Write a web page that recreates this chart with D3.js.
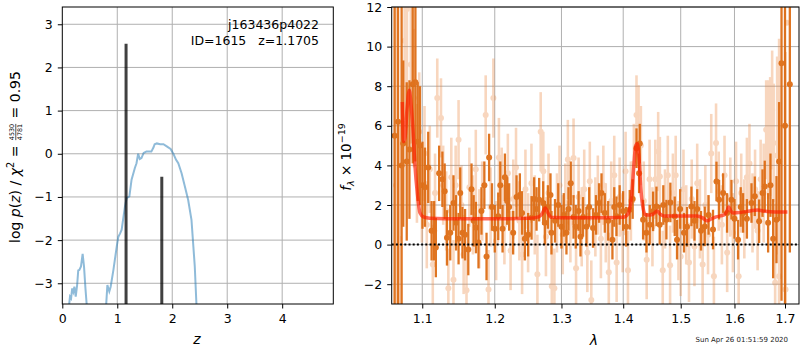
<!DOCTYPE html>
<html><head><meta charset="utf-8">
<script src="https://cdn.jsdelivr.net/npm/d3@7"></script>
<style>body{margin:0;background:#fff} svg{font-family:"DejaVu Sans",sans-serif} text{white-space:pre}</style>
</head><body><svg id="c" width="800" height="350"></svg>
<script>
// ---------- DATA ----------
const zTicks = [0,1,2,3,4];
const pzTicks = [-3,-2,-1,0,1,2,3];
const lamTicks = [1.1,1.2,1.3,1.4,1.5,1.6,1.7];
const fluxTicks = [-2,0,2,4,6,8,10,12];

// log p(z) curve (null breaks segments)
const pzZ = [0.12,0.127,0.14,0.16,0.18,0.20,0.22,0.244,0.27,0.29,0.31,0.34,0.37,0.395,0.42,0.45,null,
  0.79,0.80,0.82,0.855,0.88,0.93,0.99,1.02,1.05,1.08,1.14,1.17,1.22,1.26,1.32,1.35,1.38,1.41,1.44,1.48,1.53,1.62,1.66,1.68,1.72,1.78,1.84,1.90,1.97,2.02,2.07,2.11,2.17,2.23,2.29,2.35,2.41,2.44,2.46];
const pzVal = [-3.6,-3.46,-3.31,-3.35,-3.12,-3.2,-3.08,-3.31,-3.04,-2.7,-2.69,-2.61,-2.32,-2.61,-3.1,-3.6,null,
  -3.6,-3.46,-3.04,-3.19,-3.08,-2.69,-2.15,-1.92,-1.85,-1.76,-1.22,-1.03,-0.99,-0.60,-0.33,-0.22,0.0,-0.12,-0.1,0.02,0.05,0.05,0.15,0.22,0.24,0.22,0.22,0.17,0.11,0.0,-0.14,-0.22,-0.45,-0.76,-1.07,-1.53,-2.61,-3.48,-3.7];
const peakZ = [1.16, 1.81];
const peakVal = [2.55, -0.53];

// spectrum, primary (dark) points
const darkLam = [1.0641,1.0685,1.0731,1.0752,1.0797,1.0832,1.0875,1.0910,1.0940,1.0970,1.1003,1.1036,1.1079,1.1124,1.1158,1.1181,1.1225,1.1269,1.1300,1.1331,1.1376,1.1420,1.1456,1.1490,1.1513,1.1544,1.1580,1.1625,1.1670,1.1700,1.1732,1.1768,1.1810,1.1851,1.1882,1.1919,1.1960,1.2000,1.2050,1.2080,1.2113,1.2147,1.2180,1.2209,1.2268,1.2318,1.2367,1.2400,1.2441,1.2491,1.2542,1.2580,1.2617,1.2657,1.2718,1.2743,1.2790,1.2830,1.2845,1.2900,1.2950,1.3000,1.3036,1.3078,1.3110,1.3146,1.3190,1.3225,1.3270,1.3300,1.3341,1.3396,1.3440,1.3502,1.3550,1.3600,1.3640,1.3694,1.3750,1.3820,1.3850,1.3887,1.3940,1.3998,1.4050,1.4110,1.4160,1.4225,1.4269,1.4281,1.4338,1.4396,1.4453,1.4511,1.4570,1.4627,1.4690,1.4745,1.4815,1.4893,1.4934,1.4990,1.5059,1.5114,1.5194,1.5250,1.5300,1.5370,1.5439,1.5510,1.5593,1.5658,1.5707,1.5783,1.5858,1.5942,1.6000,1.6069,1.6120,1.6166,1.6240,1.6330,1.6395,1.6480,1.6547,1.6592,1.6659,1.6706,1.6760,1.6827,1.6880,1.6929,1.7000,1.7099];
const darkFlux = [5.5,6.2,4.0,5.1,4.2,4.8,8.1,8.2,5.2,5.0,3.0,2.9,3.9,0.7,0.7,-0.15,3.6,3.3,2.7,0.34,0.6,2.1,1.1,0.3,2.6,0.6,0.5,-0.25,2.8,1.2,0.86,0.1,1.7,3.0,-0.6,4.4,1.9,0.8,1.43,3.0,0.8,3.4,2.2,1.9,0.6,2.4,2.5,1.6,0.3,0.5,1.35,2.3,1.8,2.27,2.1,1.1,1.9,2.5,0.6,1.2,2.0,0.9,1.5,0.6,1.8,3.1,1.4,0.9,1.7,0.4,1.4,0.9,1.9,0.84,1.5,2.1,2.6,1.6,1.2,0.25,1.9,1.43,2.0,1.7,0.9,1.76,2.3,4.87,3.6,5.1,1.26,0.6,1.0,1.68,1.93,1.0,2.0,1.26,2.13,1.43,0.25,1.8,0.6,0.9,1.93,1.2,1.8,0.7,0.92,1.5,0.76,3.19,2.27,2.6,1.6,2.27,1.3,0.25,1.9,1.6,1.3,2.1,2.44,1.18,2.6,2.94,1.1,3.0,0.3,1.26,4.2,9.16,6.0,8.1];
const darkErr = [25,25,16,4.2,4.0,3.5,4.0,4.0,3.0,3.0,2.2,2.0,1.8,1.5,1.5,1.5,1.4,1.4,1.4,1.4,1.4,1.4,1.4,1.3,1.3,1.3,1.3,1.3,1.3,1.3,1.3,1.3,1.2,1.2,1.2,1.2,1.2,1.2,1.2,1.2,1.2,1.2,1.2,1.2,1.1,1.1,1.1,1.1,1.1,1.1,1.1,1.1,1.1,1.1,1.1,1.1,1.1,1.1,1.1,1.1,1.1,1.1,1.1,1.1,1.1,1.1,1.1,1.1,1.0,1.0,1.0,1.0,1.0,1.0,1.0,1.0,1.0,1.0,1.0,1.0,1.0,1.0,1.0,1.0,1.0,1.0,1.0,1.0,1.0,1.0,1.0,1.0,1.0,1.0,1.0,1.0,1.0,1.0,1.0,1.0,1.0,1.0,1.0,1.0,1.0,1.0,1.0,1.0,1.0,1.0,1.0,1.0,1.0,1.0,1.0,1.0,1.0,1.0,1.0,1.0,1.0,1.0,1.0,1.1,1.2,1.3,1.5,1.6,2.0,2.2,3.0,12,10,8.5];

// spectrum, second (light) points
const lightLam = [1.0660,1.0700,1.0770,1.0800,1.0850,1.0890,1.0930,1.0960,1.0995,1.1030,1.1060,1.1100,1.1140,1.1170,1.1200,1.1250,1.1280,1.1320,1.1350,1.1390,1.1420,1.1450,1.1490,1.1530,1.1560,1.1600,1.1640,1.1690,1.1730,1.1780,1.1820,1.1870,1.1910,1.1940,1.1980,1.2020,1.2060,1.2100,1.2140,1.2190,1.2230,1.2270,1.2310,1.2360,1.2400,1.2450,1.2490,1.2540,1.2590,1.2630,1.2680,1.2720,1.2760,1.2800,1.2850,1.2890,1.2930,1.2970,1.3020,1.3060,1.3100,1.3140,1.3190,1.3230,1.3270,1.3320,1.3360,1.3410,1.3450,1.3474,1.3540,1.3580,1.3630,1.3670,1.3710,1.3760,1.3800,1.3850,1.3890,1.3940,1.3990,1.4040,1.4080,1.4130,1.4180,1.4225,1.4260,1.4300,1.4350,1.4400,1.4450,1.4500,1.4550,1.4600,1.4630,1.4680,1.4720,1.4770,1.4810,1.4860,1.4910,1.4960,1.5000,1.5050,1.5100,1.5150,1.5200,1.5250,1.5300,1.5350,1.5400,1.5450,1.5500,1.5560,1.5610,1.5650,1.5700,1.5760,1.5810,1.5860,1.5920,1.5970,1.6030,1.6080,1.6130,1.6190,1.6240,1.6290,1.6350,1.6400,1.6450,1.6510,1.6570,1.6620,1.6660,1.6700,1.6740,1.6770,1.6800,1.6840,1.6880,1.7010,1.7040];
const lightFlux = [3.0,0.3,10.3,11.9,9.1,7.4,4.1,5.7,2.6,4.6,1.0,3.8,-1.0,2.6,7.4,6.4,3.0,1.7,-2.2,3.4,-1.77,3.0,5.3,2.0,-0.5,-2.3,2.9,1.5,3.8,0.8,2.2,6.55,-2.27,1.9,7.4,0.2,4.4,2.9,1.0,3.6,-0.3,2.3,3.9,1.2,-0.5,2.8,0.6,3.1,1.5,-1.5,5.7,3.7,0.4,2.6,-2.1,-2.2,1.6,3.0,0.5,2.1,4.3,1.1,4.37,-1.2,2.4,0.9,2.8,-0.4,3.2,-2.8,1.4,2.5,0.3,3.0,1.1,-1.4,2.2,3.5,-0.9,2.4,0.6,3.7,-1.3,2.2,4.1,6.55,6.05,5.0,2.2,-0.76,3.3,0.9,3.3,4.7,3.44,-1.3,1.8,3.5,-1.04,2.6,3.5,0.2,-0.6,2.8,1.0,-0.9,2.3,-0.1,3.1,1.3,-1.0,2.0,0.5,4.6,-1.6,5.13,2.7,1.0,3.5,-0.4,2.4,0.6,3.2,-1.6,2.6,1.3,3.4,4.1,1.6,2.8,0.7,3.3,2.6,5.8,5.3,5.46,6.8,5.13,-1.93,4.5,-1.6,-2.27,11.2];
const lightErr = [20,6,4,6,4,3.5,3,3,2.5,2.4,2.2,2.2,2,2,2,2,2,2,2,2,2,2,2,2,2,2,2,2,2,2,2,2,2,2,2,2,2,2,2,2,2,2,2,2,2,2,2,2,2,2,2,2,2,2,2,2,2,2,2,2,2,2,2,2,2,2,2,2,2,2,2,2,2,2,2,2,2,2,2,2,2,2,2,2,2,2,2,2,2,2,2,2,2,2,2,2,2,2,2,2,2,2,2,2,2,2,2,2,2,2,2,2,2,2,2,2,2,2,2,2,2,2,2,2,2,2,2,2,2,2,2,2,2.5,2.5,3,3,3,3,4,5,12,12];

// best-fit model
const modelLam = [1.0740,1.0755,1.0775,1.0800,1.0830,1.0850,1.0875,1.0905,1.0935,1.0970,1.1015,1.1100,1.1500,1.2000,1.2500,1.2650,1.2700,1.2750,1.2790,1.2840,1.3000,1.3500,1.4000,1.4080,1.4140,1.4180,1.4210,1.4240,1.4270,1.4300,1.4340,1.4380,1.4450,1.4520,1.4580,1.4630,1.4700,1.5000,1.5300,1.5400,1.5480,1.5560,1.5650,1.5800,1.5850,1.5890,1.5930,1.5970,1.6100,1.6300,1.6450,1.6600,1.6800,1.7050];
const modelFlux = [7.2,5.2,5.4,6.8,7.8,7.2,6.0,3.95,2.6,1.6,1.4,1.33,1.3,1.3,1.33,1.4,1.55,1.85,1.6,1.38,1.36,1.35,1.38,1.55,2.4,4.0,5.0,5.1,4.3,2.8,1.8,1.5,1.5,1.55,1.7,1.55,1.45,1.45,1.45,1.35,1.2,1.3,1.4,1.5,1.65,1.9,1.7,1.6,1.62,1.7,1.75,1.68,1.65,1.65];

const titleLines = ["j163436p4022", "ID=1615   z=1.1705"];
const timestamp = "Sun Apr 26 01:51:59 2020";

// ---------- LAYOUT ----------
const svg = d3.select('#c');
const L = {x0:62.3, x1:333.3, y0:7, y1:304};
const R = {x0:391.7, x1:799, y0:7, y1:304};
const xz = d3.scaleLinear().domain([0,4.93]).range([L.x0,L.x1]);
const yz = d3.scaleLinear().domain([-3.48,3.40]).range([L.y1,L.y0]);
const xl = d3.scaleLog().domain([1.0604,1.7288]).range([R.x0,R.x1]);
const yl = d3.scaleLinear().domain([-3,12]).range([R.y1,R.y0]);
const gridCol = '#b0b0b0', FS = 12.5;

const defs = svg.append('defs');
defs.append('clipPath').attr('id','clipL').append('rect').attr('x',L.x0).attr('y',L.y0).attr('width',L.x1-L.x0).attr('height',L.y1-L.y0);
defs.append('clipPath').attr('id','clipR').append('rect').attr('x',R.x0).attr('y',R.y0).attr('width',R.x1-R.x0).attr('height',R.y1-R.y0);

function grid(P, xs, ys, xt, yt){
  const g = svg.append('g');
  g.selectAll('.gx').data(xt).join('line').attr('x1',d=>xs(d)).attr('x2',d=>xs(d)).attr('y1',P.y0).attr('y2',P.y1).attr('stroke',gridCol).attr('stroke-width',1);
  g.selectAll('.gy').data(yt).join('line').attr('y1',d=>ys(d)).attr('y2',d=>ys(d)).attr('x1',P.x0).attr('x2',P.x1).attr('stroke',gridCol).attr('stroke-width',1);
}
function axes(P, xs, ys, xt, yt, xfmt){
  const ax = svg.append('g').attr('transform',`translate(0,${P.y1})`)
    .call(d3.axisBottom(xs).tickValues(xt).tickSize(4.5).tickPadding(6).tickFormat(xfmt));
  const ay = svg.append('g').attr('transform',`translate(${P.x0},0)`)
    .call(d3.axisLeft(ys).tickValues(yt).tickSize(4.5).tickPadding(5).tickFormat(d3.format('')));
  [ax,ay].forEach(a=>{a.select('.domain').remove();a.selectAll('text').attr('font-size',FS).attr('font-family','DejaVu Sans').attr('fill','#000');a.selectAll('line').attr('stroke','#000');});
  svg.append('rect').attr('x',P.x0).attr('y',P.y0).attr('width',P.x1-P.x0).attr('height',P.y1-P.y0).attr('fill','none').attr('stroke','#000').attr('stroke-width',1);
}

// ----- left panel -----
grid(L, xz, yz, zTicks.slice(1), pzTicks);
const gl = svg.append('g').attr('clip-path','url(#clipL)');
const pzData = pzZ.map((z,i)=>({z, v:pzVal[i]}));
gl.append('path').attr('d', d3.line().defined(d=>d.z!==null).x(d=>xz(d.z)).y(d=>yz(d.v))(pzData))
  .attr('fill','none').attr('stroke','#1f77b4').attr('stroke-opacity',0.5).attr('stroke-width',2);
gl.selectAll('.pk').data(peakZ).join('line').attr('x1',d=>xz(d)).attr('x2',d=>xz(d))
  .attr('y1',yz(-3.6)).attr('y2',(d,i)=>yz(peakVal[i])).attr('stroke','#000').attr('stroke-opacity',0.75).attr('stroke-width',3);
axes(L, xz, yz, zTicks, pzTicks, d3.format(''));
titleLines.forEach((t,i)=>svg.append('text').attr('x',319).attr('y',29+i*15.5).attr('text-anchor','end').attr('font-size',FS).attr('xml:space','preserve').text(t));

// ----- right panel -----
grid(R, xl, yl, lamTicks, fluxTicks);
const gr = svg.append('g').attr('clip-path','url(#clipR)');
function errSeries(lam, flux, err, col, op, sw){
  const d = lam.map((l,i)=>({l, f:flux[i], e:err[i]}));
  const g = gr.append('g').attr('opacity',op);
  g.selectAll('line').data(d).join('line').attr('x1',p=>xl(p.l)).attr('x2',p=>xl(p.l))
    .attr('y1',p=>yl(p.f-p.e)).attr('y2',p=>yl(p.f+p.e)).attr('stroke',col).attr('stroke-width',sw);
  g.selectAll('circle').data(d).join('circle').attr('cx',p=>xl(p.l)).attr('cy',p=>yl(p.f)).attr('r',3).attr('fill',col);
}
errSeries(lightLam, lightFlux, lightErr, '#e8843c', 0.33, 2.6);
errSeries(darkLam, darkFlux, darkErr, '#dd6a10', 0.92, 2.3);
gr.append('line').attr('x1',R.x0).attr('x2',R.x1).attr('y1',yl(0)).attr('y2',yl(0))
  .attr('stroke','#000').attr('stroke-width',2).attr('stroke-dasharray','2,2.2');
const mData = modelLam.map((l,i)=>({l, f:modelFlux[i]}));
gr.append('path').attr('d', d3.line().curve(d3.curveMonotoneX).x(d=>xl(d.l)).y(d=>yl(d.f))(mData))
  .attr('fill','none').attr('stroke','#ff1a00').attr('stroke-opacity',0.65).attr('stroke-width',3.5);
axes(R, xl, yl, lamTicks, fluxTicks, d3.format('.1f'));

// ----- labels -----
svg.append('text').attr('x',197).attr('y',344).attr('text-anchor','middle').attr('font-size',14).attr('font-style','italic').text('z');
svg.append('text').attr('x',594).attr('y',345).attr('text-anchor','middle').attr('font-size',14).attr('font-style','italic').text('λ');

// left y label (rotated)
(function(){
  const g = svg.append('g').attr('transform','translate(20,157) rotate(-90)');
  const inner = g.append('g');
  const t1 = inner.append('text').attr('font-size',14);
  t1.append('tspan').text('log ');
  t1.append('tspan').attr('font-style','italic').text('p');
  t1.append('tspan').text('(');
  t1.append('tspan').attr('font-style','italic').text('z');
  t1.append('tspan').text(') / ');
  t1.append('tspan').attr('font-style','italic').text('χ');
  t1.append('tspan').attr('font-size',9.8).attr('dy',-6).text('2');
  t1.append('tspan').attr('dy',6).text(' = ');
  const w1 = t1.node().getComputedTextLength();
  const fx = w1 + 1;
  const num = inner.append('text').attr('font-size',6.4).attr('x',fx).attr('y',-6).text('4530');
  const den = inner.append('text').attr('font-size',6.4).attr('x',fx).attr('y',1.5).text('4781');
  const wf = Math.max(num.node().getComputedTextLength(), den.node().getComputedTextLength());
  inner.append('line').attr('x1',fx).attr('x2',fx+wf).attr('y1',-4.2).attr('y2',-4.2).attr('stroke','#000').attr('stroke-width',0.7);
  const t3 = inner.append('text').attr('font-size',14).attr('x',fx+wf+1).text(' = 0.95');
  const total = fx+wf+1+t3.node().getComputedTextLength();
  inner.attr('transform',`translate(${-total/2},0)`);
})();

// right y label (rotated)
(function(){
  const g = svg.append('g').attr('transform','translate(351,157) rotate(-90)');
  const t = g.append('text').attr('font-size',13.5).attr('text-anchor','middle');
  t.append('tspan').attr('font-style','italic').text('f');
  t.append('tspan').attr('font-style','italic').attr('font-size',9.5).attr('dy',3).text('λ');
  t.append('tspan').attr('dy',-3).text(' × 10');
  t.append('tspan').attr('font-size',9.5).attr('dy',-6).text('−19');
})();

svg.append('text').attr('x',788).attr('y',342).attr('text-anchor','end').attr('font-size',7).attr('fill','#222').text(timestamp);
</script></body></html>
